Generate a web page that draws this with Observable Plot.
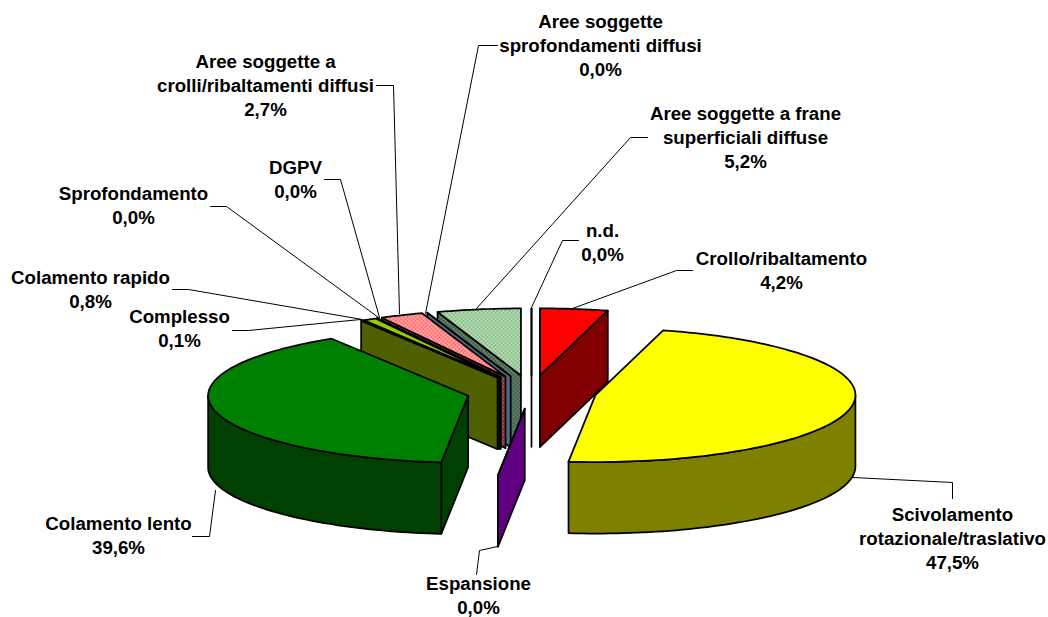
<!DOCTYPE html>
<html>
<head>
<meta charset="utf-8">
<script src="https://cdn.jsdelivr.net/npm/d3@7"></script>
<script src="https://cdn.jsdelivr.net/npm/@observablehq/plot@0.6"></script>
<style>html,body{margin:0;padding:0;background:#fff}svg{display:block}</style>
</head>
<body>
<script>
// Data, clockwise from 12 o'clock
const categories = ["Crollo/ribaltamento","Scivolamento\nrotazionale/traslativo","Espansione","Colamento lento","Complesso","Colamento rapido","Sprofondamento","DGPV","Aree soggette a\ncrolli/ribaltamenti diffusi","Aree soggette\nsprofondamenti diffusi","Aree soggette a frane\nsuperficiali diffuse","n.d."];
const percents = [4.2,47.5,0.0,39.6,0.1,0.8,0.0,0.0,2.7,0.0,5.2,0.0];

// Styles
const topFills  = ["#ff0000","#ffff00","#a000ff","#008000","#99cc00","#99cc00","#333300","#663300","url(#pinkTop)","#6688bb","url(#greenTop)","#000000"];
const wallFills = ["#800000","#808000","#600080","#004000","#4f6000","#4f6000","#1a1a00","#331a00","url(#pinkWall)","#4f6a8a","url(#greenWall)","#000000"];
// Painter's order, back to front
const drawOrder = [11,10,9,8,7,6,5,4,3,0,1,2];

// Layout of the label blocks and their leaders
const labelX = [781,952,478,118,179,90,133,295,265,600,745,602];
const labelY = [269,537,594,534,327,288,204,178,84,44,136,241];
const leaders = [
  [[692,270],[676,270],[572,308]],
  [[952,498],[952,482],[852,477]],
  [[497,546],[479,550],[476,574]],
  [[192,536],[209,536],[215,490]],
  [[232,330],[248,330],[360,319]],
  [[172,289],[188,289],[362,319]],
  [[210,206],[226,206],[378,317]],
  [[324,179],[340,179],[379,317]],
  [[376,85],[393,85],[399,313]],
  [[497,45],[478,45],[425,313]],
  [[647,137],[630,137],[476,308]],
  [[578,240],[562,240],[531,307]]
];

// 3D pie geometry
const cx = 531, cy = 391.5, rx = 260, ry = 67, depth = 71.5, explode = 0.25;
const total = d3.sum(percents);
const rad = d => d * Math.PI / 180;
const pt = (c, a, dz = 0) => ({x: c.x + rx * Math.sin(rad(a)), y: c.y - ry * Math.cos(rad(a)) + dz});

let cum = 0;
const slices = percents.map((p, i) => {
  const a0 = cum / total * 360; cum += p; const a1 = cum / total * 360; const m = (a0 + a1) / 2;
  return {i, a0, a1, apex: {x: cx + explode * rx * Math.sin(rad(m)), y: cy - explode * ry * Math.cos(rad(m))}};
});

function arc(c, a0, a1, dz = 0) {
  const n = Math.max(1, Math.ceil(Math.abs(a1 - a0) / 1.5));
  return d3.range(n + 1).map(k => pt(c, a0 + (a1 - a0) * k / n, dz));
}

const faces = [];
function face(id, fill, pts) { pts.forEach(p => faces.push({x: p.x, y: p.y, face: id, fill})); }

for (const i of drawOrder) {
  const s = slices[i], c = s.apex, low = {x: c.x, y: c.y + depth};
  // A radial wall is only seen when it turns towards the viewer
  if (-Math.sin(rad(s.a0)) > -1e-6) face(`w0-${i}`, wallFills[i], [c, pt(c, s.a0), pt(c, s.a0, depth), low]);
  if (Math.sin(rad(s.a1)) > 1e-6) face(`w1-${i}`, wallFills[i], [c, pt(c, s.a1), pt(c, s.a1, depth), low]);
  const v0 = Math.max(s.a0, 90), v1 = Math.min(s.a1, 270);
  if (v1 > v0) face(`o-${i}`, wallFills[i], [...arc(c, v0, v1), ...arc(c, v1, v0, depth)]);
  face(`t-${i}`, topFills[i], [c, ...arc(c, s.a0, s.a1)]);
}

const leaderRows = leaders.flatMap((l, i) => l.map(([x, y]) => ({x, y, i})));
const labelRows = categories.map((name, i) => ({
  x: labelX[i], y: labelY[i],
  text: `${name}\n${percents[i].toFixed(1).replace(".", ",")}%`
}));

function patterns() {
  const defs = d3.create("svg:defs");
  const add = (id, base, dot) => {
    const p = defs.append("pattern").attr("id", id).attr("patternUnits", "userSpaceOnUse").attr("width", 4).attr("height", 4);
    p.append("rect").attr("width", 4).attr("height", 4).attr("fill", base);
    p.append("rect").attr("x", 0).attr("y", 0).attr("width", 2).attr("height", 1).attr("fill", dot);
    p.append("rect").attr("x", 2).attr("y", 2).attr("width", 2).attr("height", 1).attr("fill", dot);
  };
  add("pinkTop", "#ff6f6f", "#ffe0e0");
  add("pinkWall", "#803030", "#b07070");
  add("greenTop", "#88c088", "#e8f5e8");
  add("greenWall", "#3f5f45", "#8fa898");
  return defs.node();
}

const chart = Plot.plot({
  width: 1048, height: 617,
  margin: 0,
  x: {domain: [0, 1048], range: [0, 1048], axis: null},
  y: {domain: [0, 617], range: [0, 617], axis: null},
  color: {type: "identity"},
  style: {background: "#fff", fontFamily: "'Liberation Sans', Arial, sans-serif"},
  marks: [
    patterns,
    Plot.line(leaderRows, {x: "x", y: "y", z: "i", stroke: "#000", strokeWidth: 1}),
    Plot.line(faces, {x: "x", y: "y", z: "face", fill: "fill", stroke: "#000", strokeWidth: 1.75, curve: "linear-closed"}),
    Plot.text(labelRows, {x: "x", y: "y", text: "text", fontSize: 18.7, fontWeight: "bold", fill: "#000", lineHeight: 1.28, textAnchor: "middle", lineAnchor: "middle"})
  ]
});
document.body.appendChild(chart);
</script>
</body>
</html>
